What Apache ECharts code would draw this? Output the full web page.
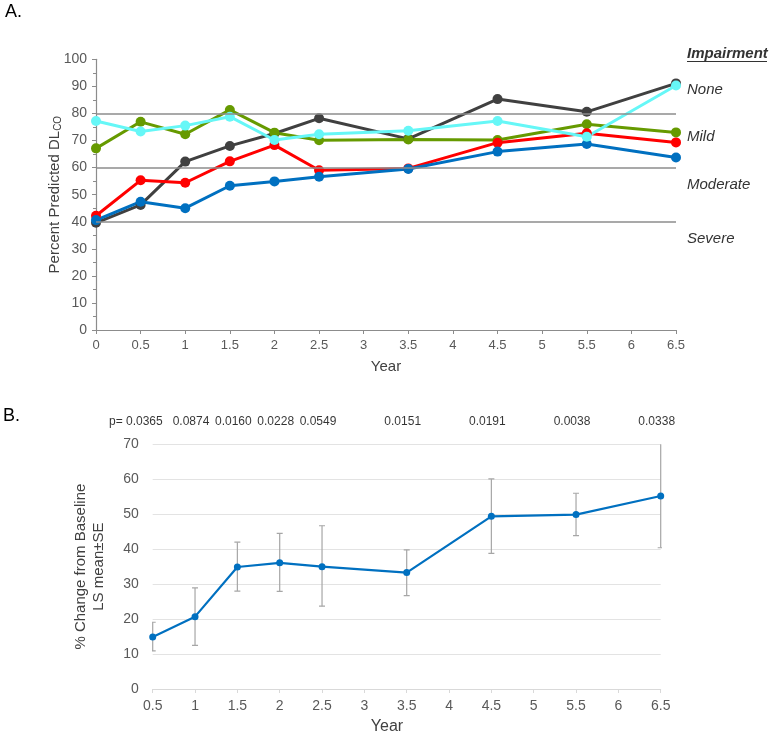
<!DOCTYPE html>
<html><head><meta charset="utf-8">
<script src="https://cdn.jsdelivr.net/npm/echarts@6/dist/echarts.min.js"></script>
<style>html,body{margin:0;padding:0;background:#fff}#c{width:773px;height:739px}</style>
</head><body><div id="c"></div>
<script>
// ---- Panel A data ----
const yearsA = [0, 0.5, 1, 1.5, 2, 2.5, 3.5, 4.5, 5.5, 6.5];
const darkGray = [39.6, 46.2, 62.2, 68.0, 72.6, 78.2, 70.6, 85.3, 80.6, 91.1];
const green    = [67.1, 76.9, 72.3, 81.3, 72.9, 70.1, 70.4, 70.2, 76.0, 73.0];
const red      = [42.2, 55.3, 54.4, 62.3, 68.3, 59.0, 59.7, 69.2, 72.7, 69.3];
const blue     = [40.6, 47.4, 45.0, 53.3, 54.9, 56.6, 59.5, 65.9, 68.7, 63.7];
const cyan     = [77.2, 73.3, 75.5, 78.8, 70.2, 72.3, 73.6, 77.2, 71.4, 90.3];
const thresholds = [40, 60, 80];
const impairmentLabels = ['None', 'Mild', 'Moderate', 'Severe'];

// ---- Panel B data ----
const yearsB = [0.5, 1, 1.5, 2, 2.5, 3.5, 4.5, 5.5, 6.5];
const lsMean = [14.9, 20.7, 34.9, 36.1, 35.0, 33.3, 49.4, 49.9, 55.2];
const seLow  = [10.9, 12.5, 28.0, 27.9, 23.7, 26.7, 38.8, 43.9, 40.4];
const seHigh = [19.1, 28.9, 42.0, 44.5, 46.7, 39.8, 60.1, 56.0, 70.4];
const pValues = ['0.0365', '0.0874', '0.0160', '0.0228', '0.0549', '0.0151', '0.0191', '0.0038', '0.0338'];

const FONT = '"Liberation Sans", Arial, sans-serif';
const chart = echarts.init(document.getElementById('c'), null, {renderer: 'canvas'});

function lineSeries(name, vals, color) {
  return {
    name, type: 'line', xAxisIndex: 0, yAxisIndex: 0,
    data: yearsA.map((x, i) => [x, vals[i]]),
    symbol: 'circle', symbolSize: 10,
    lineStyle: {color, width: 3}, itemStyle: {color},
    z: 3
  };
}

const errData = yearsB.map((x, i) => [x, seLow[i], seHigh[i]]);

const option = {
  animation: false,
  textStyle: {fontFamily: FONT},
  grid: [
    {left: 96, right: 97, top: 59.3, height: 270.7},
    {left: 152.7, right: 112.3, top: 444.3, height: 244.7}
  ],
  xAxis: [
    {
      gridIndex: 0, type: 'value', min: 0, max: 6.5, interval: 0.5,
      name: 'Year', nameLocation: 'middle', nameGap: 29, nameMoveOverlap: false,
      nameTextStyle: {fontSize: 15, color: '#404040', fontFamily: FONT},
      axisLine: {show: true, lineStyle: {color: '#8c8c8c', width: 1.2}},
      axisTick: {show: true, inside: false, length: 4, lineStyle: {color: '#8c8c8c'}},
      axisLabel: {fontSize: 13, color: '#595959', margin: 9, fontFamily: FONT},
      splitLine: {show: false}
    },
    {
      gridIndex: 1, type: 'value', min: 0.5, max: 6.5, interval: 0.5,
      axisLine: {show: true, lineStyle: {color: '#d9d9d9', width: 1}},
      axisTick: {show: true, length: 4, lineStyle: {color: '#d9d9d9'}},
      axisLabel: {fontSize: 14, color: '#595959', margin: 10, fontFamily: FONT},
      splitLine: {show: false}
    }
  ],
  yAxis: [
    {
      gridIndex: 0, type: 'value', min: 0, max: 100, interval: 10,
      name: 'Percent Predicted DL{sub|CO}', nameLocation: 'middle', nameGap: 33, nameMoveOverlap: false,
      nameTextStyle: {fontSize: 15, color: '#404040', fontFamily: FONT,
        rich: {sub: {fontSize: 10, color: '#404040', padding: [7, 0, 0, 0], fontFamily: FONT}}},
      axisLine: {show: true, lineStyle: {color: '#8c8c8c', width: 1.2}},
      axisTick: {show: true, length: 4, lineStyle: {color: '#8c8c8c'}},
      minorTick: {show: true, splitNumber: 2, length: 3, lineStyle: {color: '#8c8c8c'}},
      axisLabel: {fontSize: 14, color: '#595959', margin: 9, fontFamily: FONT},
      splitLine: {show: false}
    },
    {
      gridIndex: 1, type: 'value', min: 0, max: 70, interval: 10,
      name: '% Change from Baseline\nLS mean±SE', nameLocation: 'middle', nameGap: 45, nameMoveOverlap: false,
      nameTextStyle: {fontSize: 15, color: '#404040', lineHeight: 18, fontFamily: FONT},
      axisLine: {show: false}, axisTick: {show: false},
      axisLabel: {fontSize: 14, color: '#595959', margin: 14, fontFamily: FONT},
      splitLine: {show: true, lineStyle: {color: '#e3e3e3', width: 1}}
    }
  ],
  series: [
    {
      name: 'thresholds', type: 'line', xAxisIndex: 0, yAxisIndex: 0, data: [],
      markLine: {
        silent: true, symbol: 'none', label: {show: false},
        lineStyle: {color: '#8c8c8c', width: 1.5, type: 'solid'},
        data: thresholds.map(v => ({yAxis: v}))
      }, z: 1
    },
    lineSeries('Group 1', darkGray, '#404040'),
    lineSeries('Group 2', green, '#669a00'),
    lineSeries('Group 3', red, '#ff0000'),
    lineSeries('Group 4', blue, '#0070c0'),
    lineSeries('Group 5', cyan, '#66f7f7'),
    {
      name: 'SE', type: 'custom', xAxisIndex: 1, yAxisIndex: 1,
      data: errData, clip: true, z: 2,
      encode: {x: 0, y: [1, 2]},
      renderItem: function (params, api) {
        const x = api.value(0);
        const top = api.coord([x, api.value(2)]);
        const bot = api.coord([x, api.value(1)]);
        const w = 3;
        const st = {stroke: '#a6a6a6', lineWidth: 1.2};
        return {
          type: 'group',
          children: [
            {type: 'line', shape: {x1: top[0], y1: top[1], x2: bot[0], y2: bot[1]}, style: st},
            {type: 'line', shape: {x1: top[0] - w, y1: top[1], x2: top[0] + w, y2: top[1]}, style: st},
            {type: 'line', shape: {x1: bot[0] - w, y1: bot[1], x2: bot[0] + w, y2: bot[1]}, style: st}
          ]
        };
      }
    },
    {
      name: 'LS mean', type: 'line', xAxisIndex: 1, yAxisIndex: 1,
      data: yearsB.map((x, i) => [x, lsMean[i]]),
      symbol: 'circle', symbolSize: 7,
      lineStyle: {color: '#0070c0', width: 2.2}, itemStyle: {color: '#0070c0'}, z: 4
    },
    {
      name: 'p', type: 'scatter', xAxisIndex: 1, yAxisIndex: 1, symbolSize: 0, silent: true,
      data: yearsB.map((x, i) => {
        const item = {value: [x, 70], label: {formatter: pValues[i]}};
        if (i === 0) item.label = {formatter: 'p= ' + pValues[i], align: 'right', offset: [10, 0]};
        return item;
      }),
      label: {show: true, position: 'top', distance: 17, offset: [-4, 0],
        fontSize: 12, color: '#000', fontFamily: FONT}
    }
  ],
  graphic: [
    {type: 'text', left: 5, top: 3, style: {text: 'A.', fontSize: 18, fill: '#000', fontFamily: FONT}},
    {type: 'text', left: 3, top: 407, style: {text: 'B.', fontSize: 18, fill: '#000', fontFamily: FONT}},
    {type: 'text', x: 687, y: 54, style: {text: 'Impairment', fontSize: 15, fontWeight: 'bold', fontStyle: 'italic', fill: '#333', fontFamily: FONT, verticalAlign: 'middle'}},
    {type: 'line', shape: {x1: 687, y1: 61.5, x2: 767, y2: 61.5}, style: {stroke: '#333', lineWidth: 1.2}},
    {type: 'text', x: 687, y: 90, style: {text: impairmentLabels[0], fontSize: 15, fontStyle: 'italic', fill: '#333', fontFamily: FONT, verticalAlign: 'middle'}},
    {type: 'text', x: 687, y: 137, style: {text: impairmentLabels[1], fontSize: 15, fontStyle: 'italic', fill: '#333', fontFamily: FONT, verticalAlign: 'middle'}},
    {type: 'text', x: 687, y: 185, style: {text: impairmentLabels[2], fontSize: 15, fontStyle: 'italic', fill: '#333', fontFamily: FONT, verticalAlign: 'middle'}},
    {type: 'text', x: 687, y: 239, style: {text: impairmentLabels[3], fontSize: 15, fontStyle: 'italic', fill: '#333', fontFamily: FONT, verticalAlign: 'middle'}},
    {type: 'text', x: 387, y: 727, style: {text: 'Year', fontSize: 16, fill: '#404040', fontFamily: FONT, align: 'center', verticalAlign: 'middle'}}
  ]
};
chart.setOption(option);
</script>
</body></html>
